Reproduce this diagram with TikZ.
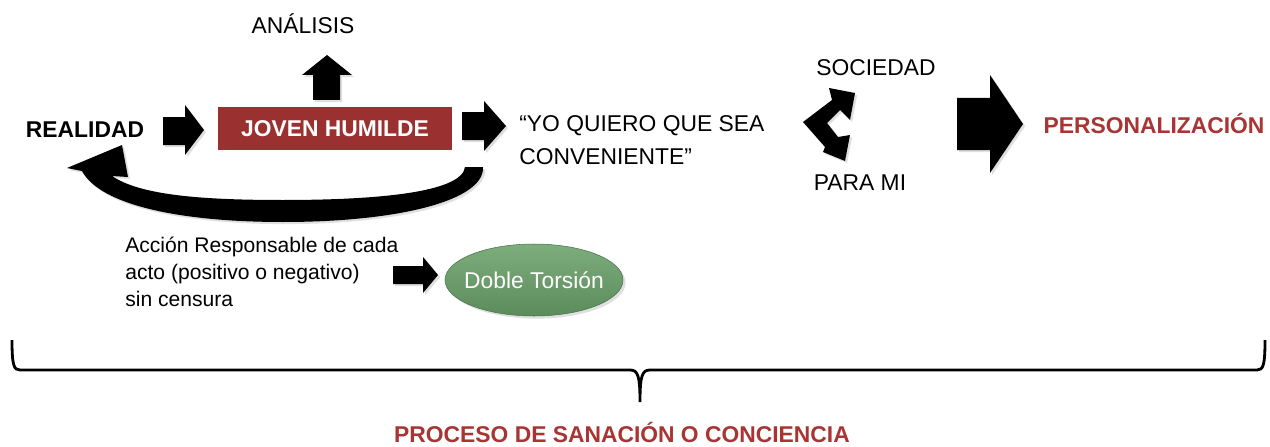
\documentclass[tikz,border=0pt]{standalone}
\usepackage{fontspec}
\setmainfont{Liberation Sans}
\usepackage{tikz}
\usetikzlibrary{shapes.geometric, shadows}
\definecolor{boxred}{RGB}{155, 48, 48}
\definecolor{titlered}{RGB}{168, 52, 52}
\definecolor{ovaltop}{RGB}{125, 172, 125}
\definecolor{ovalbot}{RGB}{92, 140, 92}
\newcommand{\bigtxt}{\fontsize{13}{17}\selectfont}
\newcommand{\smalltxt}{\fontsize{12}{15.4}\selectfont}
\tikzset{
    label/.style={font=\bigtxt, inner sep=0pt},
    blockarrow/.style={fill=black, drop shadow={opacity=0.25, shadow xshift=1.2pt, shadow yshift=-1.2pt}},
}

\begin{document}
\begin{tikzpicture}[x=0.02cm, y=-0.02cm]
        \useasboundingbox (0,0) rectangle (1270,446);

        % textos
        \node[label] (analisis) at (303,24) {ANÁLISIS};
        \node[label, font=\bigtxt\bfseries] (realidad) at (85,130) {REALIDAD};
        \node[label, fill=boxred, text=white, font=\bigtxt\bfseries,
              minimum width=4.68cm, minimum height=0.86cm] (joven) at (335,128.5) {JOVEN HUMILDE};
        \node[label, anchor=west, align=left] (quiero) at (519,140) {“YO QUIERO QUE SEA\\[2pt]CONVENIENTE”};
        \node[label] (sociedad) at (876,68) {SOCIEDAD};
        \node[label] (parami) at (860,183) {PARA MI};
        \node[label, text=titlered, font=\bigtxt\bfseries] (person) at (1154,123) {PERSONALIZACIÓN};
        \node[label, font=\smalltxt, anchor=west, align=left] (accion) at (125,272)
            {Acción Responsable de cada\\acto (positivo o negativo)\\sin censura};
        \node[ellipse, draw=ovalbot!80!black, line width=0.3pt, top color=ovaltop, bottom color=ovalbot,
              inner xsep=-4pt, minimum width=3.56cm, minimum height=1.44cm, text=white, font=\bigtxt,
              drop shadow={opacity=0.25, shadow xshift=1.5pt, shadow yshift=-1.5pt}] (torsion) at (534,280) {Doble Torsión};
        \node[label, text=titlered, font=\bigtxt\bfseries] (proceso) at (622,432) {PROCESO DE SANACIÓN O CONCIENCIA};

        % flechas
        \fill[blockarrow] (313,100) -- (313,75) -- (302,75) -- (327,55) -- (352,75) -- (340,75) -- (340,100) -- cycle;
        \fill[blockarrow] (163,117) -- (185,117) -- (185,105) -- (204,130) -- (185,155) -- (185,145) -- (163,145) -- cycle;
        \fill[blockarrow] (462,112) -- (484,112) -- (484,101) -- (506,126) -- (484,151) -- (484,140) -- (462,140) -- cycle;
        \fill[blockarrow] (957,98) -- (990,98) -- (990,75) -- (1023,124) -- (990,173) -- (990,150) -- (957,150) -- cycle;
        \fill[blockarrow] (393,266) -- (423,266) -- (423,257) -- (438,275) -- (423,293) -- (423,284) -- (393,284) -- cycle;

        % flecha de vuelta
        \fill[blockarrow] (465,167) -- (483,167)
            .. controls (485,200) and (400,222) .. (283,222)
            .. controls (180,222) and (100,205) .. (82,171)
            -- (67,168) -- (122,145) -- (128,177) -- (112,176)
            .. controls (140,195) and (200,200) .. (283,200)
            .. controls (380,200) and (462,192) .. (465,167) -- cycle;

        % flecha doble
        \fill[blockarrow] (803,122) -- (832,100) -- (829,88) -- (855,93) -- (850,120) -- (840,110)
            -- (827,123) -- (838,137) -- (850,135) -- (845,161) -- (823,152) -- (825,147) -- cycle;

        % llave
        \draw[line width=1.6pt] (12,340) .. controls (12,366) and (14,370) .. (20,370) -- (630,370)
            .. controls (638,370) and (640,376) .. (640,402)
            .. controls (640,376) and (642,370) .. (650,370) -- (1257,370)
            .. controls (1263,370) and (1265,366) .. (1265,340);
    \end{tikzpicture}
\end{document}
